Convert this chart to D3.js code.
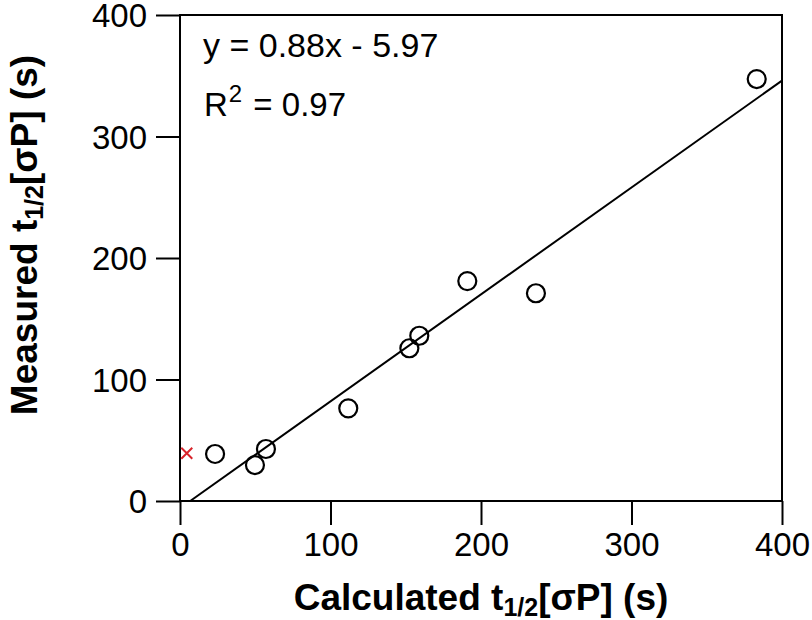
<!DOCTYPE html>
<html>
<head>
<meta charset="utf-8">
<script src="https://cdn.jsdelivr.net/npm/d3@7"></script>
<style>
  html, body { margin: 0; padding: 0; background: #fff; }
  svg { display: block; font-family: "Liberation Sans", Arial, Helvetica, sans-serif; }
</style>
</head>
<body>
<svg id="chart" width="812" height="620"></svg>
<script>
// Data
const calculated = [23.3, 49.8, 57.1, 111.8, 152.4, 159.0, 190.9, 236.5, 383.2];
const measured   = [38.7, 29.6, 42.8, 76.3, 125.7, 136.0, 181.0, 171.0, 347.3];
const outlierX = [4.5];
const outlierY = [39.3];
const fitSlope = 0.88;
const fitIntercept = -5.97;
const xTicks = [0, 100, 200, 300, 400];
const yTicks = [0, 100, 200, 300, 400];

const svg = d3.select("#chart");
const L = 180, R = 782, T = 15, B = 501;
const x = d3.scaleLinear().domain([0, 400]).range([L, R]);
const y = d3.scaleLinear().domain([0, 400]).range([B, T]);

// frame
svg.append("rect").attr("x", L).attr("y", T).attr("width", R - L).attr("height", B - T)
  .attr("fill", "none").attr("stroke", "#000").attr("stroke-width", 2);

// axes
const xAxis = d3.axisBottom(x).tickValues(xTicks).tickSize(24).tickPadding(8).tickFormat(d3.format("d"));
const yAxis = d3.axisLeft(y).tickValues(yTicks).tickSize(24).tickPadding(9).tickFormat(d3.format("d"));
const gx = svg.append("g").attr("transform", `translate(0,${B})`).call(xAxis);
const gy = svg.append("g").attr("transform", `translate(${L},0)`).call(yAxis);
[gx, gy].forEach(g => {
  g.select(".domain").remove();
  g.selectAll(".tick line").attr("stroke", "#000").attr("stroke-width", 2);
  g.selectAll(".tick text").attr("fill", "#000").style("font-size", "33px")
    .style("font-family", "'Liberation Sans', Arial, sans-serif");
});
gx.selectAll(".tick text").attr("dy", "0.71em");
gy.selectAll(".tick text").attr("dy", "0.35em");

// fit line
const xStart = -fitIntercept / fitSlope;
svg.append("line")
  .attr("x1", x(xStart)).attr("y1", y(0))
  .attr("x2", x(400)).attr("y2", y(fitSlope * 400 + fitIntercept))
  .attr("stroke", "#000").attr("stroke-width", 2);

// points
svg.append("g").selectAll("circle").data(calculated.map((c, i) => [c, measured[i]]))
  .join("circle")
  .attr("cx", d => x(d[0])).attr("cy", d => y(d[1])).attr("r", 9)
  .attr("fill", "none").attr("stroke", "#000").attr("stroke-width", 2.2);

// outlier cross
const s = 5.5;
svg.append("g").selectAll("path").data(outlierX.map((c, i) => [c, outlierY[i]]))
  .join("path")
  .attr("d", d => `M${x(d[0]) - s},${y(d[1]) - s}L${x(d[0]) + s},${y(d[1]) + s}M${x(d[0]) - s},${y(d[1]) + s}L${x(d[0]) + s},${y(d[1]) - s}`)
  .attr("stroke", "#d8232a").attr("stroke-width", 2);

// annotations
svg.append("text").attr("x", 203).attr("y", 57).style("font-size", "34px").attr("fill", "#000")
  .text("y = 0.88x - 5.97");
const r2 = svg.append("text").attr("x", 204).attr("y", 116).style("font-size", "33px").attr("fill", "#000");
r2.append("tspan").text("R");
r2.append("tspan").attr("dy", -14).attr("dx", 1).style("font-size", "24px").text("2");
r2.append("tspan").attr("dy", 14).attr("dx", 2).text(" = 0.97");

// axis titles
const xt = svg.append("text").attr("x", 481).attr("y", 610).attr("text-anchor", "middle")
  .style("font-size", "37px").style("font-weight", "bold").attr("fill", "#000");
xt.append("tspan").text("Calculated t");
xt.append("tspan").attr("dy", 6).style("font-size", "25px").text("1/2");
xt.append("tspan").attr("dy", -6).text("[σP] (s)");

const yt = svg.append("text").attr("transform", "translate(37,235) rotate(-90)").attr("text-anchor", "middle")
  .style("font-size", "37px").style("font-weight", "bold").attr("fill", "#000");
yt.append("tspan").text("Measured t");
yt.append("tspan").attr("dy", 6).style("font-size", "25px").text("1/2");
yt.append("tspan").attr("dy", -6).text("[σP] (s)");
</script>
</body>
</html>
